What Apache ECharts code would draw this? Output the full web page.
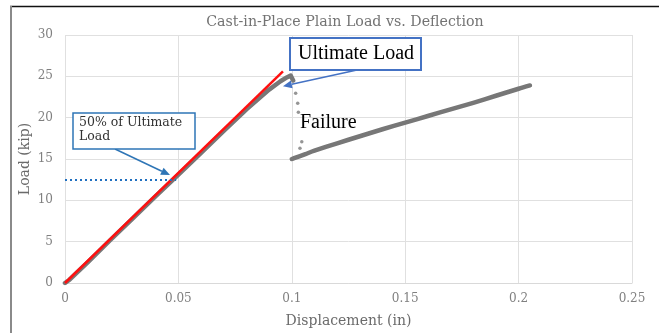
<!DOCTYPE html>
<html><head><meta charset="utf-8">
<script src="https://cdn.jsdelivr.net/npm/echarts/dist/echarts.min.js"></script>
<style>html,body{margin:0;padding:0;background:#fff}#c{width:659px;height:333px}</style>
</head><body><div id="c"></div>
<script>
// ---- data ----
const xTicks = [0, 0.05, 0.1, 0.15, 0.2, 0.25];
const yTicks = [0, 5, 10, 15, 20, 25, 30];
// test curve up to the ultimate load
const preDisp = [0, 0.002, 0.005, 0.01, 0.02, 0.03, 0.04, 0.05, 0.06, 0.07, 0.08, 0.09, 0.095, 0.098, 0.0995, 0.1003, 0.1006];
const preLoad = [0, 0.4, 1.2, 2.5, 5.2, 7.85, 10.5, 13.1, 15.75, 18.4, 21.0, 23.4, 24.4, 24.9, 25.1, 24.9, 24.5];
// sparse points during the failure drop
const dropDisp = [0.1017, 0.1026, 0.1029, 0.1044, 0.1036];
const dropLoad = [22.95, 21.74, 20.65, 17.09, 16.29];
// post-failure curve
const postDisp = [0.1, 0.101, 0.103, 0.106, 0.11, 0.12, 0.13, 0.14, 0.15, 0.16, 0.17, 0.18, 0.19, 0.2, 0.205];
const postLoad = [15.0, 15.1, 15.3, 15.6, 16.0, 16.9, 17.75, 18.6, 19.4, 20.2, 21.0, 21.8, 22.65, 23.5, 23.9];
// linear fit (red)
const fitDisp = [0, 0.0961];
const fitLoad = [0, 25.6];
// 50% of ultimate load (blue dotted)
const halfDisp = [0, 0.049];
const halfLoad = [12.45, 12.45];
// annotation targets (data coords)
const ultArrowHead = [0.0961, 23.8];
const halfArrowHead = [0.0463, 13.05];

const zip = (a, b) => a.map((v, i) => [v, b[i]]);
const chart = echarts.init(document.getElementById('c'));
const serif = 'DejaVu Serif';
const times = 'Liberation Serif';

chart.setOption({
  animation: false,
  backgroundColor: '#fff',
  title: {
    text: 'Cast-in-Place Plain Load vs. Deflection',
    left: 340, textAlign: 'center', top: 10,
    textStyle: { fontFamily: serif, fontSize: 14.2, fontWeight: 'normal', color: '#737373' }
  },
  grid: { left: 65, right: 27, top: 35, bottom: 50 },
  xAxis: {
    type: 'value', min: xTicks[0], max: xTicks[xTicks.length - 1], interval: 0.05,
    name: 'Displacement (in)', nameLocation: 'middle', nameGap: 31, nameMoveOverlap: false,
    nameTextStyle: { fontFamily: serif, fontSize: 14, color: '#6b6b6b' },
    axisLine: { show: true, lineStyle: { color: '#d9d9d9', width: 1 } },
    axisTick: { show: false },
    axisLabel: { fontFamily: serif, fontSize: 12, color: '#808080', margin: 10 },
    splitLine: { show: true, lineStyle: { color: '#e0e0e0', width: 1 } }
  },
  yAxis: {
    type: 'value', min: yTicks[0], max: yTicks[yTicks.length - 1], interval: 5,
    name: 'Load (kip)', nameLocation: 'middle', nameGap: 33, nameMoveOverlap: false,
    nameTextStyle: { fontFamily: serif, fontSize: 14, color: '#6b6b6b' },
    axisLine: { show: false },
    axisTick: { show: false },
    axisLabel: { fontFamily: serif, fontSize: 12, color: '#808080', margin: 12 },
    splitLine: { show: true, lineStyle: { color: '#e0e0e0', width: 1 } }
  },
  series: [
    { type: 'line', data: zip(preDisp, preLoad), showSymbol: false, z: 2,
      lineStyle: { color: '#777777', width: 4.5, cap: 'round', join: 'round' } },
    { type: 'scatter', data: zip(dropDisp, dropLoad), symbolSize: 3.5, z: 2,
      itemStyle: { color: '#7a7a7a' } },
    { type: 'line', data: zip(postDisp, postLoad), showSymbol: false, z: 2, smooth: 0.3,
      lineStyle: { color: '#777777', width: 4.5, cap: 'round', join: 'round' } },
    { type: 'line', data: zip(fitDisp, fitLoad), showSymbol: false, z: 3,
      lineStyle: { color: '#ff1010', width: 2.5 } },
    { type: 'line', data: zip(halfDisp, halfLoad), showSymbol: false, z: 3,
      lineStyle: { color: '#1f6fc0', width: 2, type: [2, 3] } }
  ]
});

function arrowEls(tail, headData, color, width) {
  const h = chart.convertToPixel({ gridIndex: 0 }, headData);
  const dx = h[0] - tail[0], dy = h[1] - tail[1];
  const L = Math.sqrt(dx * dx + dy * dy);
  const ux = dx / L, uy = dy / L;
  const len = 9, hw = 4;
  const bx = h[0] - ux * len, by = h[1] - uy * len;
  return [
    { type: 'line', z: 20, shape: { x1: tail[0], y1: tail[1], x2: bx, y2: by },
      style: { stroke: color, lineWidth: width } },
    { type: 'polygon', z: 20, shape: { points: [[h[0], h[1]], [bx - uy * hw, by + ux * hw], [bx + uy * hw, by - ux * hw]] },
      style: { fill: color } }
  ];
}

chart.setOption({
  graphic: [
    // frame
    { type: 'line', shape: { x1: 10, y1: 6.5, x2: 659, y2: 6.5 }, style: { stroke: '#111', lineWidth: 1.5 } },
    { type: 'line', shape: { x1: 11, y1: 6, x2: 11, y2: 333 }, style: { stroke: '#8a8a8a', lineWidth: 2 } },
    // Ultimate Load box
    { type: 'rect', z: 21, shape: { x: 290, y: 38, width: 131, height: 32 },
      style: { fill: '#fff', stroke: '#4472c4', lineWidth: 2 } },
    { type: 'text', z: 22, x: 356, y: 54,
      style: { text: 'Ultimate Load', fontFamily: times, fontSize: 20, fill: '#000', align: 'center', verticalAlign: 'middle' } },
    // 50% box
    { type: 'rect', z: 21, shape: { x: 73, y: 113, width: 122, height: 36 },
      style: { fill: '#fff', stroke: '#2e75b6', lineWidth: 1.5 } },
    { type: 'text', z: 22, x: 79, y: 116,
      style: { text: '50% of Ultimate\nLoad', fontFamily: serif, fontSize: 12.5, lineHeight: 14, fill: '#333', align: 'left', verticalAlign: 'top' } },
    // Failure label
    { type: 'text', z: 22, x: 300, y: 123,
      style: { text: 'Failure', fontFamily: times, fontSize: 20, fill: '#000', align: 'left', verticalAlign: 'middle' } },
    ...arrowEls([357, 70], ultArrowHead, '#4472c4', 1.5),
    ...arrowEls([115, 149], halfArrowHead, '#2e75b6', 1.5)
  ]
});
</script>
</body></html>
